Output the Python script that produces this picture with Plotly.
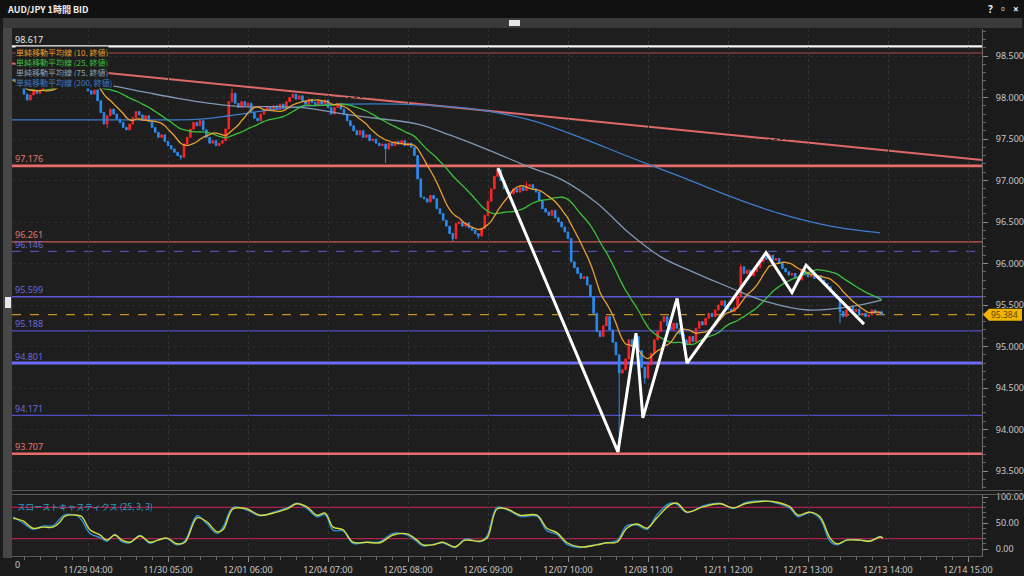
import numpy as np
import pandas as pd
import plotly.graph_objects as go

# ---------------- data ----------------
bar_start = 2          # bar index of first visible candle (bar 0 = 11/28 03:00)
first_open = 98.22
closes = [
    98.20, 98.16, 98.13, 98.04, 97.97, 98.03, 98.08, 98.05, 98.09, 98.12,
    98.14, 98.18, 98.22, 98.19, 98.25, 98.28, 98.24, 98.21, 98.26, 98.22,
    98.17, 98.19, 98.13, 98.08, 98.04, 98.09, 97.96, 97.82, 97.68, 97.78,
    97.86, 97.80, 97.74, 97.70, 97.64, 97.61, 97.68, 97.76, 97.83, 97.79,
    97.73, 97.78, 97.71, 97.64, 97.58, 97.52, 97.55, 97.47, 97.42, 97.38,
    97.34, 97.30, 97.28, 97.44, 97.52, 97.62, 97.70, 97.66, 97.72, 97.61,
    97.52, 97.45, 97.48, 97.42, 97.45, 97.48, 97.62, 97.95, 98.05, 97.93,
    97.88, 97.95, 97.90, 97.93, 97.82, 97.75, 97.72, 97.80, 97.85, 97.88,
    97.84, 97.90, 97.86, 97.92, 97.88, 97.95, 98.00, 98.04, 97.98, 98.02,
    97.96, 97.92, 97.98, 97.94, 97.90, 97.96, 97.92, 97.97, 97.88, 97.80,
    97.88, 97.93, 97.86, 97.80, 97.72, 97.66, 97.60, 97.55, 97.60, 97.52,
    97.55, 97.48, 97.50, 97.45, 97.42, 97.44, 97.38, 97.45, 97.42, 97.47,
    97.44, 97.48, 97.42, 97.45, 97.40, 97.30, 97.02, 96.80, 96.78, 96.74,
    96.82, 96.78, 96.66, 96.60, 96.52, 96.45, 96.36, 96.30, 96.48, 96.50,
    96.45, 96.49, 96.43, 96.40, 96.36, 96.33, 96.42, 96.58, 96.75, 96.90,
    97.05, 97.13, 97.00, 96.90, 96.86, 96.84, 96.90, 96.86, 96.92, 96.88,
    96.93, 96.95, 96.90, 96.86, 96.76, 96.66, 96.62, 96.58, 96.64, 96.55,
    96.50, 96.44, 96.38, 96.30, 96.02, 95.95, 95.88, 95.82, 95.84, 95.74,
    95.60, 95.40, 95.18, 95.12, 95.25, 95.36, 95.20, 95.05, 94.90, 94.68,
    94.72, 94.85, 95.08, 95.00, 95.12, 94.95, 94.75, 94.62, 94.78, 94.92,
    95.08, 95.18, 95.30, 95.36, 95.25, 95.20, 95.28, 95.22, 95.15, 95.08,
    95.02, 95.12, 95.06, 95.22, 95.30, 95.26, 95.34, 95.40, 95.36, 95.44,
    95.50, 95.55, 95.48, 95.45, 95.42, 95.47, 95.60, 95.96, 95.88, 95.92,
    95.85, 95.90, 95.95, 96.02, 96.08, 96.05, 96.10, 96.04, 96.06, 96.00,
    95.94, 95.90, 95.86, 95.88, 95.82, 95.80, 95.92, 95.88, 95.84, 95.86,
    95.82, 95.85, 95.80, 95.76, 95.72, 95.66, 95.62, 95.58, 95.42, 95.36,
    95.44, 95.48, 95.42, 95.45, 95.38, 95.40, 95.36, 95.38, 95.44, 95.40,
    95.42, 95.384,
]
high_wicks = {70: 98.11, 153: 97.16, 162: 96.99, 229: 95.99, 238: 96.12}
low_wicks = {31: 97.63, 54: 97.25, 118: 97.21, 139: 96.27, 147: 96.30,
             191: 93.72, 199: 94.55, 260: 95.28}

tick_idx = [0, 25, 50, 75, 100, 125, 150, 175, 200, 225, 250, 275, 300]
tick_labels = ["11/28 03:00", "11/29 04:00", "11/30 05:00", "12/01 06:00",
               "12/04 07:00", "12/05 08:00", "12/06 09:00", "12/07 10:00",
               "12/08 11:00", "12/11 12:00", "12/12 13:00", "12/13 14:00",
               "12/14 15:00"]

ma75_idx = [1.25, 16, 31, 42, 53, 63, 73, 84, 94, 105, 115, 128, 138, 150,
            163, 173, 184, 194, 204, 214, 225, 237, 250, 263, 273]
ma75_val = [98.21, 98.19, 98.15, 98.07, 97.99, 97.93, 97.89, 97.89, 97.87,
            97.80, 97.75, 97.68, 97.55, 97.37, 97.16, 97.01, 96.73, 96.37,
            96.08, 95.90, 95.72, 95.54, 95.44, 95.48, 95.56]
ma200_idx = [1.25, 29, 60, 69, 82, 94, 107, 122, 138, 147.5, 163, 178.75,
             194.4, 210, 225.6, 241.25, 257, 272.5]
ma200_val = [97.73, 97.73, 97.74, 97.78, 97.85, 97.90, 97.92, 97.92, 97.89,
             97.85, 97.73, 97.52, 97.28, 97.05, 96.81, 96.60, 96.45, 96.37]

# slow stochastics (25,3,3)
sto_idx = [1.6, 4.7, 7.8, 10.9, 14.1, 16.25, 17.8, 21.6, 23.1, 25.6,
           28.75, 30.9, 33.4, 35.6, 38.1, 41.25, 44.4, 46.9, 49.7, 52.8,
           55.3, 59.1, 62.2, 65.3, 67.2, 70.3, 74.7, 78.75, 84.1, 87.2,
           90.3, 93.4, 96.6, 99.1, 101.6, 104.7, 107.8, 112.2, 116.25, 120.3,
           124.7, 127.8, 129.7, 132.8, 135.9, 139.7, 142.8, 147.5, 149.7, 152.8,
           155.9, 160, 165.3, 168.4, 171.6, 174.7, 178.75, 184.1, 187.2, 190.3,
           193.4, 196.6, 199.7, 202.8, 206.9, 209.1, 212.2, 217.2, 222.5, 226.6,
           230.9, 237.2, 240.3, 244.4, 246.9, 250.6, 253.75, 256.9, 259.1, 262.2,
           266.25, 269.4, 272.5, 273.4]
sto_d = [59, 54, 40, 42, 42, 52, 63, 65, 62, 37,
         27, 17, 27, 17, 13, 25, 13, 17, 21, 10,
         13, 60, 52, 33, 37, 77, 77, 65, 71, 77,
         87, 81, 65, 69, 42, 37, 13, 13, 12, 27,
         29, 17, 8, 8, 13, 4, 17, 15, 21, 77,
         77, 65, 65, 40, 31, 12, 4, 8, 12, 13,
         40, 48, 40, 60, 85, 88, 71, 81, 87, 79,
         88, 92, 90, 81, 65, 71, 62, 21, 10, 17,
         17, 15, 23, 21]
sto_k = [62, 50, 38, 44, 45, 58, 66, 64, 55, 30,
         22, 15, 28, 14, 12, 26, 11, 18, 20, 8,
         16, 64, 48, 30, 42, 80, 75, 64, 73, 79,
         88, 78, 62, 66, 36, 35, 11, 13, 14, 30,
         27, 14, 6, 9, 12, 3, 19, 14, 25, 80,
         76, 63, 63, 35, 28, 9, 3, 9, 12, 16,
         45, 46, 38, 66, 88, 86, 70, 83, 88, 78,
         90, 92, 88, 78, 62, 70, 58, 15, 8, 18,
         17, 16, 24, 21]

zigzag_idx = [153.1, 190.6, 196.25, 198.4, 209.1, 212.2, 236.9, 245.0, 249.4, 267.5]
zigzag_val = [97.15, 93.73, 95.16, 94.14, 95.58, 94.80, 96.13, 95.65, 95.98, 95.27]

trend_idx = [1.25, 304.4]
trend_val = [98.410, 97.247]

level_vals = [98.617, 98.536, 97.176, 96.261, 96.146, 95.599, 95.188, 94.801, 94.171, 93.707]
level_texts = ["98.617", "", "97.176", "96.261", "96.146", "95.599", "95.188", "94.801", "94.171", "93.707"]
current_price = 95.384
stoch_levels = [80, 20]

legend_texts = ["単純移動平均線 (10, 終値)", "単純移動平均線 (25, 終値)",
                "単純移動平均線 (75, 終値)", "単純移動平均線 (200, 終値)"]

# ---------------- geometry helpers ----------------
W, H = 1024, 576
ML, MR, MT, MB = 12, 42, 29, 20
PW, PH = W - ML - MR, H - MT - MB


def px(x):
    return (x - ML) / PW


def py(y):
    return (H - MB - y) / PH


X0, PXB = 8.0, 3.2
x_range = [(ML - X0) / PXB, (W - MR - X0) / PXB]
y_main_range = [98.5 - (489 - 56) / 83, 98.5 - (MT - 56) / 83]
y_sto_range = [100 - (556 - 497) / 0.52, 100 - (495 - 497) / 0.52]

# ---------------- derived series ----------------
idx = np.arange(bar_start, bar_start + len(closes))
c = np.array(closes, dtype=float)
o = np.r_[first_open, c[:-1]]
h = np.maximum(o, c)
l = np.minimum(o, c)
for k, v in high_wicks.items():
    h[k - bar_start] = max(h[k - bar_start], v)
for k, v in low_wicks.items():
    l[k - bar_start] = min(l[k - bar_start], v)

cs = pd.Series(c)
ma10 = cs.rolling(10, min_periods=1).mean()
ma25 = cs.rolling(25, min_periods=1).mean()

FONT = "Noto Sans, Noto Sans CJK JP"
JFONT = "Noto Sans CJK JP"
BG = "#1e1e1e"

fig = go.Figure()

fig.add_trace(go.Candlestick(
    x=idx, open=o, high=h, low=l, close=c,
    increasing=dict(line=dict(color="#ff2424", width=1), fillcolor="#ff2424"),
    decreasing=dict(line=dict(color="#2a8cf0", width=1), fillcolor="#2a8cf0"),
    whiskerwidth=0, xaxis="x", yaxis="y", showlegend=False, hoverinfo="skip"))

fig.add_trace(go.Scatter(x=ma200_idx, y=ma200_val, mode="lines", line=dict(color="#3d7cc9", width=1.3, shape="spline"),
                         xaxis="x", yaxis="y", showlegend=False, hoverinfo="skip"))
fig.add_trace(go.Scatter(x=ma75_idx, y=ma75_val, mode="lines", line=dict(color="#7f98b4", width=1.3, shape="spline"),
                         xaxis="x", yaxis="y", showlegend=False, hoverinfo="skip"))
fig.add_trace(go.Scatter(x=idx, y=ma25, mode="lines", line=dict(color="#3cc03c", width=1.3, shape="spline"),
                         xaxis="x", yaxis="y", showlegend=False, hoverinfo="skip"))
fig.add_trace(go.Scatter(x=idx, y=ma10, mode="lines", line=dict(color="#e8a030", width=1.3, shape="spline"),
                         xaxis="x", yaxis="y", showlegend=False, hoverinfo="skip"))
fig.add_trace(go.Scatter(x=zigzag_idx, y=zigzag_val, mode="lines", line=dict(color="#ffffff", width=3),
                         xaxis="x", yaxis="y", showlegend=False, hoverinfo="skip"))

fig.add_trace(go.Scatter(x=sto_idx, y=sto_k, mode="lines", line=dict(color="#2a90d4", width=1.4, shape="spline"),
                         xaxis="x2", yaxis="y2", showlegend=False, hoverinfo="skip"))
fig.add_trace(go.Scatter(x=sto_idx, y=sto_d, mode="lines", line=dict(color="#d6dc3a", width=1.4, shape="spline"),
                         xaxis="x2", yaxis="y2", showlegend=False, hoverinfo="skip"))

shapes = []
ann = []

# background chrome
shapes.append(dict(type="rect", xref="paper", yref="paper", x0=px(0), x1=px(W), y0=py(0), y1=py(18),
                   fillcolor="#111111", line=dict(width=0), layer="below"))
shapes.append(dict(type="rect", xref="paper", yref="paper", x0=px(3), x1=px(1022), y0=py(18), y1=py(28),
                   fillcolor="#3a3a3a", line=dict(width=0), layer="below"))
shapes.append(dict(type="rect", xref="paper", yref="paper", x0=px(509), x1=px(520), y0=py(20), y1=py(26),
                   fillcolor="#e6e6e6", line=dict(width=0)))
shapes.append(dict(type="rect", xref="paper", yref="paper", x0=px(3), x1=px(12), y0=py(28), y1=py(558),
                   fillcolor="#474747", line=dict(width=0)))
shapes.append(dict(type="rect", xref="paper", yref="paper", x0=px(5), x1=px(11), y0=py(297), y1=py(308),
                   fillcolor="#e6e6e6", line=dict(width=0)))
for yy in (490.5, 494.5):
    shapes.append(dict(type="line", xref="paper", yref="paper", x0=px(12), x1=px(1022), y0=py(yy), y1=py(yy),
                       line=dict(color="#5a5a5a", width=1)))

# level lines
level_styles = [("#f4f4f4", 2.2, "solid"), ("#b04848", 1.2, "solid"), ("#ea6c68", 2.6, "solid"),
                ("#c85a55", 1.2, "solid"), ("#5a5ac8", 1.0, "dash"), ("#5856d2", 1.6, "solid"),
                ("#5050c4", 1.2, "solid"), ("#6c6cf4", 3.0, "solid"), ("#5050c4", 1.2, "solid"),
                ("#ea6c68", 2.6, "solid")]
label_colors = ["#e8e8e8", "#c05050", "#e07870", "#e07870", "#6a6ad8", "#6a6ad8",
                "#6a6ad8", "#6a6ad8", "#6a6ad8", "#e07870"]
for v, t, (col, wd, ds), lc in zip(level_vals, level_texts, level_styles, label_colors):
    shapes.append(dict(type="line", xref="paper", yref="y", x0=0, x1=1, y0=v, y1=v,
                       line=dict(color=col, width=wd, dash=ds), layer="below"))
    if t:
        ann.append(dict(xref="paper", yref="y", x=px(13), y=v, yshift=7, text=t, showarrow=False,
                        xanchor="left", yanchor="middle", font=dict(family=FONT, size=9, color=lc)))

shapes.append(dict(type="line", xref="paper", yref="y", x0=0, x1=1, y0=current_price, y1=current_price,
                   line=dict(color="#c89020", width=1.2, dash="dash"), layer="below"))
shapes.append(dict(type="line", xref="x", yref="y", x0=trend_idx[0], x1=trend_idx[1],
                   y0=trend_val[0], y1=trend_val[1], line=dict(color="#e06a68", width=2), layer="below"))

for s in stoch_levels:
    shapes.append(dict(type="line", xref="paper", yref="y2", x0=0, x1=1, y0=s, y1=s,
                       line=dict(color="#b0204c", width=1.2), layer="below"))

# price tag
yp = 56 + (98.5 - current_price) * 83
shapes.append(dict(type="path", xref="paper", yref="paper",
                   path=f"M {px(983)} {py(yp)} L {px(989)} {py(yp-6)} L {px(1022)} {py(yp-6)} "
                        f"L {px(1022)} {py(yp+6)} L {px(989)} {py(yp+6)} Z",
                   fillcolor="#f0b400", line=dict(width=0)))
ann.append(dict(xref="paper", yref="y", x=px(1005), y=current_price, text=f"{current_price:.3f}", showarrow=False,
                xanchor="center", yanchor="middle", font=dict(family=FONT, size=8.5, color="#5a4a18")))

# texts
ann.append(dict(xref="paper", yref="paper", x=px(5), y=py(9), text="<b>AUD/JPY 1時間 BID</b>", showarrow=False,
                xanchor="left", yanchor="middle", font=dict(family=JFONT, size=9, color="#f0f0f0")))
for xx, t in ((990, "?"), (1003, "▫"), (1016, "×")):
    ann.append(dict(xref="paper", yref="paper", x=px(xx), y=py(9), text=f"<b>{t}</b>", showarrow=False,
                    xanchor="center", yanchor="middle", font=dict(family=FONT, size=10, color="#f0f0f0")))

# legend rows (opaque background, like the reference)
legend_colors = ["#e8a030", "#3cc03c", "#8ea4bc", "#3d7cc9"]
for k, (t, col) in enumerate(zip(legend_texts, legend_colors)):
    ann.append(dict(xref="paper", yref="paper", x=px(15), y=py(52 + 10.3 * k), text=t, showarrow=False,
                    xanchor="left", yanchor="middle", bgcolor=BG, borderpad=0,
                    font=dict(family=JFONT, size=8, color=col)))

ann.append(dict(xref="paper", yref="paper", x=px(15), y=py(506), text="スローストキャスティクス (25, 3, 3)",
                showarrow=False, xanchor="left", yanchor="middle", font=dict(family=JFONT, size=8.5, color="#2aa0c8")))
ann.append(dict(xref="paper", yref="paper", x=px(13), y=py(564), text="0", showarrow=False,
                xanchor="left", yanchor="middle", font=dict(family=FONT, size=9, color="#c8c8c8")))

grid_col = "#333333"
fig.update_layout(
    width=W, height=H, margin=dict(l=ML, r=MR, t=MT, b=MB, autoexpand=False),
    paper_bgcolor="#1b1b1b", plot_bgcolor=BG,
    showlegend=False, shapes=shapes, annotations=ann,
    xaxis=dict(domain=[0, 1], anchor="y", range=x_range, tickmode="array", tickvals=tick_idx,
               showticklabels=False, ticks="", showgrid=True, gridcolor=grid_col, griddash="dot",
               zeroline=False, showline=False, rangeslider=dict(visible=False), automargin=False),
    yaxis=dict(domain=[py(489), 1], anchor="x", side="right", range=y_main_range,
               tickmode="linear", tick0=93.5, dtick=0.5, tickformat=".3f",
               ticks="outside", ticklen=5, tickcolor="#8a8a8a", ticklabelstandoff=6,
               minor=dict(dtick=0.1, tick0=93.5, ticklen=3, tickcolor="#6a6a6a", showgrid=False, ticks="outside"),
               showline=True, linecolor="#6a6a6a", showgrid=True, gridcolor="#2c2c2c", griddash="dot",
               zeroline=False, automargin=False, tickfont=dict(family=FONT, size=9, color="#c8c8c8")),
    xaxis2=dict(domain=[0, 1], anchor="y2", matches="x", range=x_range, tickmode="array",
                tickvals=tick_idx, ticktext=tick_labels, ticks="outside", ticklen=5, tickcolor="#8a8a8a",
                minor=dict(tickmode="array", tickvals=list(range(0, 305, 5)), ticklen=3, tickcolor="#6a6a6a",
                           ticks="outside", showgrid=False),
                showgrid=True, gridcolor=grid_col, griddash="dot", zeroline=False, showline=True,
                linecolor="#5a5a5a", automargin=False, tickfont=dict(family=FONT, size=9, color="#c8c8c8")),
    yaxis2=dict(domain=[0, py(495)], anchor="x2", side="right", range=y_sto_range,
                tickmode="array", tickvals=[0, 50, 100], ticktext=["0.00", "50.00", "100.00"],
                ticks="outside", ticklen=5, tickcolor="#8a8a8a", ticklabelstandoff=6,
                minor=dict(tickmode="array", tickvals=list(range(0, 101, 10)), ticklen=3, tickcolor="#6a6a6a",
                           ticks="outside", showgrid=False),
                showline=True, linecolor="#6a6a6a", showgrid=False, zeroline=False, automargin=False,
                tickfont=dict(family=FONT, size=9, color="#c8c8c8")),
)

fig.write_html("out.html", config={"displayModeBar": False},
               post_script="document.body.style.margin='0';document.body.style.background='#1b1b1b';")
